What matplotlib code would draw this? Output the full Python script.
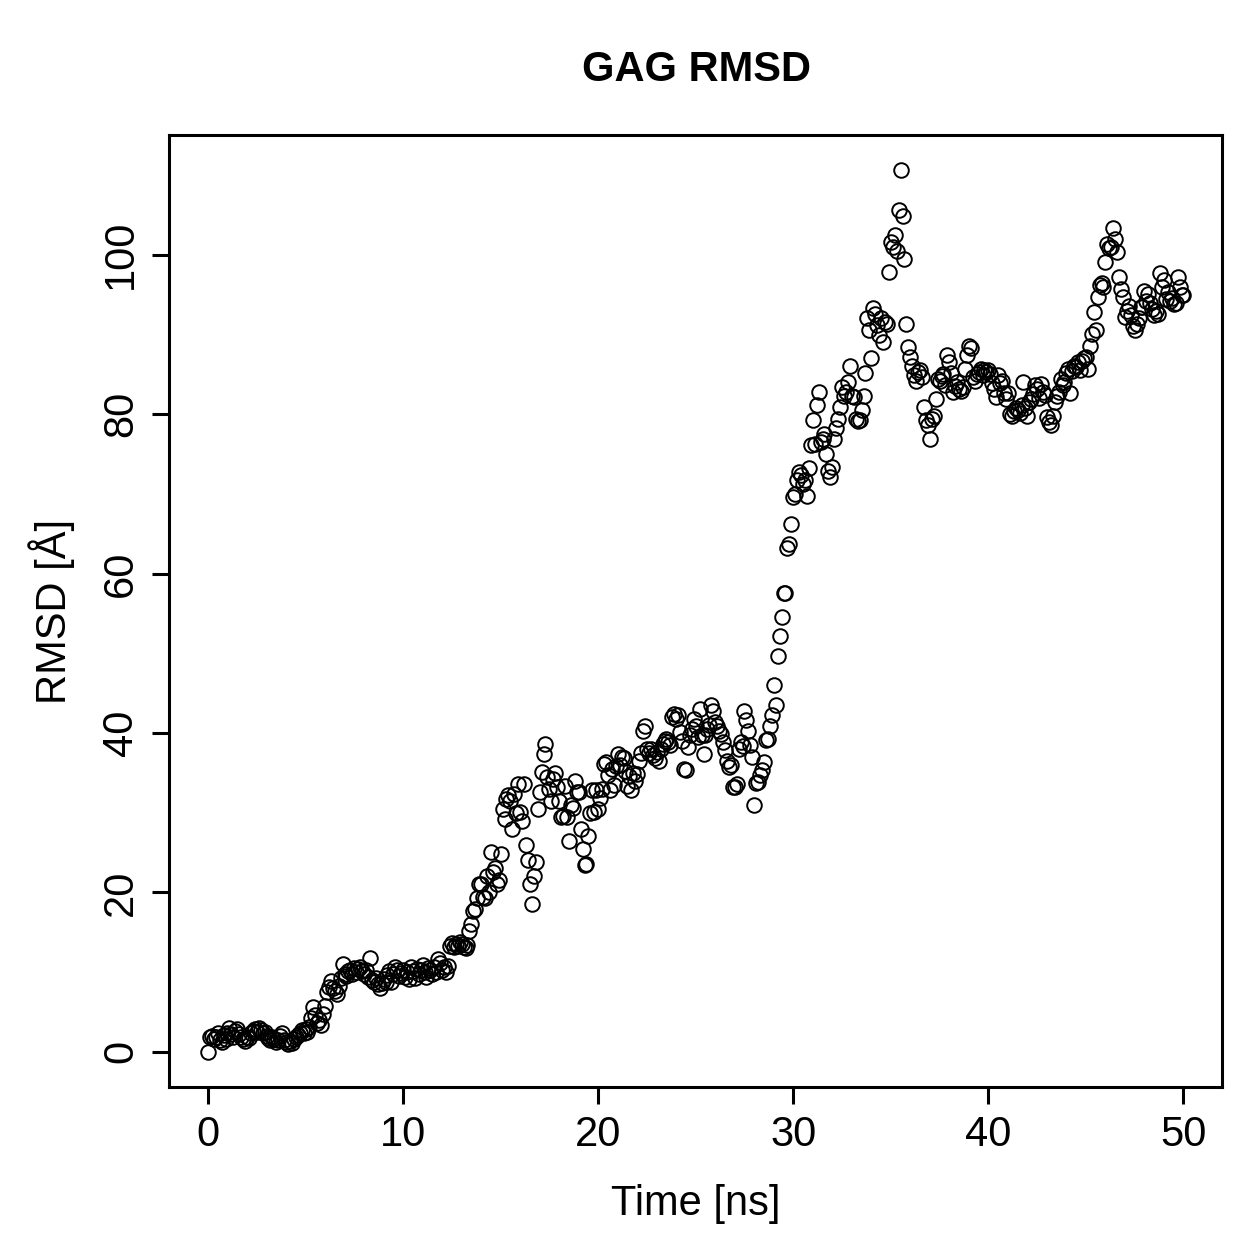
import numpy as np
import matplotlib
matplotlib.use("Agg")
import matplotlib.pyplot as plt

plt.rcParams['font.family'] = ['Liberation Sans', 'DejaVu Sans']

# RMSD of the GAG chain, one frame every 0.1 ns (0 .. 50 ns)
rmsd = [
    0.0, 1.8, 2.0, 1.6, 1.9, 2.3, 1.5, 1.2, 2.1, 1.6,
    2.4, 3.0, 2.2, 1.9, 2.6, 2.8, 2.2, 1.9, 1.6, 1.4,
    1.9, 1.7, 2.3, 2.6, 2.9, 2.5, 3.0, 2.7, 2.3, 2.5,
    2.0, 1.7, 1.5, 1.9, 1.6, 1.2, 1.5, 2.0, 2.3, 1.5,
    1.2, 1.0, 1.4, 1.1, 1.6, 1.8, 2.1, 2.3, 2.7, 2.4,
    2.8, 2.5, 3.1, 4.2, 5.6, 4.6, 3.6, 4.0, 3.4, 4.8,
    5.7, 7.5, 8.1, 8.9, 8.0, 7.6, 7.3, 8.3, 9.2, 11.0,
    9.8, 9.5, 10.1, 10.3, 9.8, 10.5, 10.0, 10.4, 10.6, 10.1,
    9.7, 10.2, 9.4, 11.8, 9.0, 8.8, 9.3, 8.5, 8.0, 8.6,
    9.1, 8.7, 9.6, 10.1, 8.8, 9.8, 10.6, 10.3, 9.5, 9.9,
    10.3, 9.4, 10.0, 9.1, 10.6, 10.1, 9.2, 10.4, 9.8, 10.2,
    10.9, 10.0, 9.4, 10.5, 10.2, 9.8, 10.6, 10.0, 11.6, 11.1,
    10.3, 10.6, 10.0, 10.8, 13.3, 13.6, 13.2, 13.5, 13.3, 13.8,
    13.5, 13.2, 13.0, 13.4, 15.2, 16.0, 17.7, 17.9, 19.3, 21.1,
    21.0, 19.4, 19.3, 22.1, 20.0, 25.1, 22.6, 23.0, 21.0, 21.5,
    24.8, 30.5, 29.2, 31.7, 32.2, 31.5, 28.0, 32.4, 29.9, 33.6,
    30.1, 28.9, 33.6, 25.9, 24.0, 21.1, 18.6, 22.1, 23.8, 30.5,
    32.6, 35.1, 37.4, 38.6, 34.5, 33.0, 31.4, 34.2, 35.0, 33.2,
    31.5, 29.5, 29.6, 33.3, 29.4, 26.5, 31.0, 30.6, 34.0, 32.6,
    32.6, 28.0, 25.5, 23.4, 23.5, 27.1, 29.9, 32.8, 30.1, 32.8,
    30.5, 31.8, 33.0, 36.1, 36.4, 34.7, 32.8, 35.5, 33.5, 35.8,
    37.3, 36.0, 37.0, 36.8, 35.2, 33.4, 34.6, 32.8, 35.0, 34.0,
    34.8, 36.5, 37.5, 40.3, 40.9, 38.0, 37.5, 38.0, 37.2, 36.8,
    37.6, 36.5, 38.0, 38.6, 39.0, 39.2, 38.9, 38.5, 42.0, 42.4,
    41.8, 42.2, 40.1, 39.0, 35.5, 35.3, 38.2, 39.7, 40.5, 41.8,
    40.9, 39.5, 43.0, 39.8, 37.4, 39.7, 40.5, 41.0, 43.5, 42.8,
    41.4, 40.9, 40.2, 39.9, 38.9, 37.8, 36.5, 35.7, 36.0, 33.2,
    33.2, 33.6, 38.0, 38.9, 38.4, 42.8, 41.6, 40.3, 38.5, 37.0,
    30.9, 33.7, 33.8, 34.7, 35.3, 36.4, 39.1, 39.2, 40.9, 42.2,
    46.0, 43.5, 49.6, 52.2, 54.5, 57.5, 57.6, 63.2, 63.7, 66.2,
    69.6, 70.0, 71.7, 72.7, 72.4, 71.2, 71.7, 69.7, 73.2, 76.1,
    79.2, 76.3, 81.1, 82.8, 76.5, 76.9, 77.5, 75.0, 72.9, 72.1,
    73.4, 76.9, 78.2, 79.4, 80.9, 83.4, 82.3, 82.8, 84.0, 86.1,
    82.3, 82.1, 79.4, 79.1, 79.2, 80.5, 82.3, 85.1, 92.1, 90.5,
    87.0, 93.3, 92.6, 91.2, 89.9, 92.0, 89.0, 91.5, 91.3, 97.8,
    101.6, 101.0, 102.5, 100.5, 105.6, 110.6, 104.9, 99.5, 91.3, 88.4,
    87.2, 86.1, 84.9, 84.2, 85.3, 85.5, 84.6, 80.9, 79.2, 78.6,
    76.9, 79.4, 79.8, 81.9, 84.4, 84.1, 84.8, 85.0, 83.6, 87.4,
    86.5, 85.2, 82.8, 83.5, 84.0, 83.2, 82.9, 83.4, 85.7, 87.4,
    88.6, 88.3, 84.6, 84.2, 85.0, 85.3, 85.7, 84.9, 85.5, 85.3,
    85.5, 85.0, 83.9, 83.2, 82.1, 84.9, 83.9, 84.2, 82.6, 81.9,
    82.6, 80.0, 79.8, 80.4, 80.8, 80.5, 80.1, 81.2, 84.0, 80.8,
    79.8, 81.5, 81.9, 82.5, 83.6, 83.2, 82.0, 83.8, 82.8, 82.4,
    79.6, 79.0, 78.6, 79.8, 81.5, 82.3, 82.8, 84.4, 83.6, 84.0,
    85.1, 85.7, 82.6, 85.4, 86.0, 85.9, 86.5, 85.5, 86.7, 87.0,
    87.2, 85.7, 88.6, 90.1, 92.8, 90.6, 94.7, 96.2, 96.4, 96.0,
    99.1, 101.4, 100.8, 101.0, 103.3, 102.0, 100.3, 97.2, 95.7, 94.7,
    92.2, 93.0, 93.6, 92.4, 91.0, 90.5, 91.3, 92.0, 93.4, 93.5,
    95.5, 94.2, 95.1, 94.0, 93.2, 92.4, 93.0, 92.5, 97.7, 96.0,
    96.8, 94.4, 95.3, 94.2, 94.6, 93.8, 93.9, 97.2, 96.0, 94.9,
    95.0,
]
time_ns = np.arange(len(rmsd)) * 0.1

x_ticks = [0, 10, 20, 30, 40, 50]
y_ticks = [0, 20, 40, 60, 80, 100]

title = "GAG RMSD"
xlabel = "Time [ns]"
ylabel = "RMSD [Å]"

fig = plt.figure(figsize=(12.59, 12.59), dpi=100)
ax = fig.add_axes([0.1342, 0.1366, 0.8368, 0.7562])

ax.plot(time_ns, rmsd, linestyle='none', marker='o', markersize=10.5,
        markerfacecolor='none', markeredgecolor='black', markeredgewidth=1.4)

# R style 4% padding on both axes
xmin, xmax = min(time_ns), max(time_ns)
ymin, ymax = min(rmsd), max(rmsd)
ax.set_xlim(xmin - 0.04 * (xmax - xmin), xmax + 0.04 * (xmax - xmin))
ax.set_ylim(ymin - 0.04 * (ymax - ymin), ymax + 0.04 * (ymax - ymin))

ax.set_xticks(x_ticks)
ax.set_yticks(y_ticks)
ax.set_xticklabels([str(v) for v in x_ticks])
ax.set_yticklabels([str(v) for v in y_ticks], rotation=90, va='center')
ax.tick_params(direction='out', length=12, width=2.2, labelsize=30, pad=8)

for sp in ax.spines.values():
    sp.set_linewidth(2.2)

fig.text(0.553, 1 - 70 / 1259, title, ha='center', va='center',
         fontsize=30, fontweight='bold')
fig.text(0.553, 1 - 1204 / 1259, xlabel, ha='center', va='center', fontsize=30)
fig.text(52 / 1259, 1 - 611 / 1259, ylabel, ha='center', va='center',
         fontsize=30, rotation=90)

fig.savefig('out.png', dpi=100)
